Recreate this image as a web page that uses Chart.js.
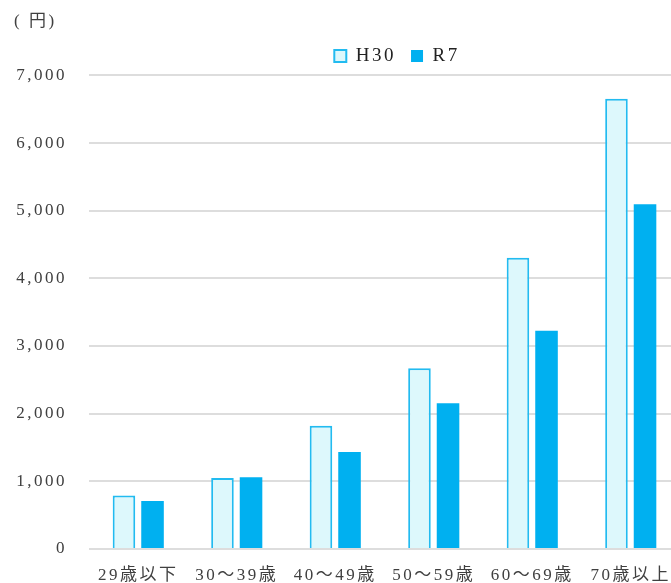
<!DOCTYPE html>
<html lang="ja">
<head>
<meta charset="utf-8">
<title>年齢階層別 金額</title>
<script src="https://cdn.jsdelivr.net/npm/chart.js@4.4.1/dist/chart.umd.min.js"></script>
<style>
  html, body { margin: 0; padding: 0; background: #ffffff; overflow: hidden; }
  #wrap { width: 671px; height: 583px; overflow: hidden; }
  canvas { display: block; }
</style>
</head>
<body>
<div id="wrap"><canvas id="chart" width="780" height="583"></canvas></div>
<script>
// Age groups along the x axis
const categories = ['29歳以下', '30～39歳', '40～49歳', '50～59歳', '60～69歳', '70歳以上'];
// Amounts in yen per age group
const h30Values = [790, 1050, 1820, 2670, 4305, 6655];
const r7Values = [710, 1060, 1435, 2155, 3225, 5095];
// Value axis range
const yMin = 0;
const yMax = 7000;
const yStep = 1000;

const FONT_FAMILY = "'Liberation Serif', 'Noto Sans CJK JP', serif";
const TEXT_COLOR = '#404040';
const GRID_COLOR = '#dddddd';

// Wide letter spacing for all canvas text (canvas state resets on resize)
const spacingPlugin = {
  id: 'letterSpacing',
  beforeLayout(chart) { chart.ctx.letterSpacing = '2.5px'; },
  beforeDraw(chart) { chart.ctx.letterSpacing = '2.5px'; }
};

new Chart(document.getElementById('chart'), {
  type: 'bar',
  data: {
    labels: categories,
    datasets: [
      {
        label: 'H30',
        data: h30Values,
        backgroundColor: '#ddf8fc',
        borderColor: '#22bbf0',
        borderWidth: 2,
        yAxisID: 'y'
      },
      {
        label: 'R7',
        data: r7Values,
        backgroundColor: '#00b0f0',
        borderColor: '#00b0f0',
        borderWidth: 0,
        yAxisID: 'y'
      }
    ]
  },
  options: {
    responsive: false,
    animation: false,
    devicePixelRatio: 1,
    categoryPercentage: 0.58,
    barPercentage: 0.79,
    layout: { padding: { left: 14, right: 0, top: 0, bottom: 0 } },
    plugins: {
      tooltip: { enabled: false },
      title: {
        display: true,
        text: '( 円)',
        align: 'start',
        color: TEXT_COLOR,
        font: { family: FONT_FAMILY, size: 17, weight: 'normal' },
        padding: { top: 11, bottom: 0 }
      },
      legend: {
        display: true,
        position: 'top',
        labels: {
          color: '#222222',
          font: { family: FONT_FAMILY, size: 19 },
          boxWidth: 12,
          boxHeight: 12,
          padding: 15
        }
      }
    },
    scales: {
      x: {
        grid: { display: false, drawTicks: false },
        border: { display: false },
        ticks: {
          color: TEXT_COLOR,
          font: { family: FONT_FAMILY, size: 17 },
          padding: 16,
          maxRotation: 0,
          autoSkip: false
        },
        afterFit(scale) { scale.height = 34; }
      },
      y: {
        position: 'left',
        min: yMin,
        max: yMax,
        grid: { color: GRID_COLOR, lineWidth: 2, drawTicks: false },
        border: { display: false },
        ticks: {
          stepSize: yStep,
          color: TEXT_COLOR,
          font: { family: FONT_FAMILY, size: 17 },
          padding: 22,
          callback: v => v.toLocaleString('en-US')
        },
        afterFit(scale) { scale.width = 75; }
      },
      // empty spacer on the right so the plot runs past the visible edge
      yRight: {
        position: 'right',
        display: true,
        grid: { display: false, drawTicks: false },
        border: { display: false },
        ticks: { display: false },
        afterFit(scale) { scale.width = 100; }
      }
    }
  },
  plugins: [spacingPlugin]
});
</script>
</body>
</html>
